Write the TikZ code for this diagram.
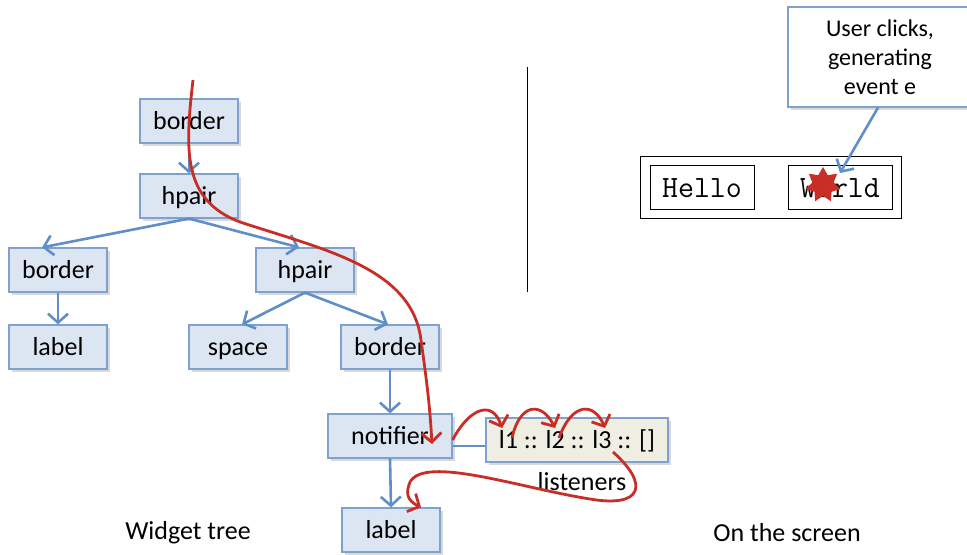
\documentclass[tikz,border=0pt]{standalone}
\usepackage{fontspec}
\setmainfont{Carlito}
\usetikzlibrary{arrows.meta,shadows,shapes.geometric}
\definecolor{boxfill}{RGB}{220,230,242}
\definecolor{boxline}{RGB}{126,161,207}
\definecolor{treeblue}{RGB}{96,142,201}
\definecolor{flowred}{RGB}{200,45,38}
\definecolor{listfill}{RGB}{238,238,226}

\begin{document}
\begin{tikzpicture}[x=0.5pt,y=-0.5pt]
  \tikzstyle{box}=[draw=boxline,fill=boxfill,line width=0.6pt,minimum width=49pt,minimum height=22pt,inner sep=0pt,text height=10pt,text depth=1.5pt,font=\fontsize{13}{15}\selectfont,drop shadow={opacity=0.3,shadow xshift=1.5pt,shadow yshift=-1.5pt}]
  \tikzstyle{tree}=[draw=treeblue,line width=1.3pt,-{Straight Barb[length=4.5pt,width=10pt]}]
  \tikzstyle{flow}=[draw=flowred,line width=1.4pt,-{Straight Barb[length=4.5pt,width=10pt]}]
  \tikzstyle{screenbox}=[draw,line width=0.5pt,minimum width=52pt,minimum height=22pt,inner sep=0pt,font=\ttfamily\fontsize{15.5}{17}\selectfont]
  \tikzstyle{caption}=[font=\fontsize{13}{15}\selectfont]

  \useasboundingbox (0,0) rectangle (967,555);

  % Define the widget tree
  \node[box] (b1) at (189,121) {border};
  \node[box] (h1) at (189,196) {hpair};
  \node[box] (b2) at (58,270) {border};
  \node[box] (h2) at (305,270) {hpair};
  \node[box] (lab1) at (58,347) {label};
  \node[box] (sp) at (238,347) {space};
  \node[box] (b3) at (390,347) {border};
  \node[box,minimum width=62pt] (notif) at (390,436) {notifier};
  \node[box] (lab2) at (391,530) {label};
  \node[box,fill=listfill,minimum width=91pt] (lst) at (577,440) {l1 :: l2 :: l3 :: []};
  \node[caption] (lsttext) at (582,482) {listeners};

  % Draw the tree edges
  \foreach \a/\b in {b1/h1, b2/lab1, b3/notif, notif/lab2} {
    \draw[tree] (\a.south) -- (\b.north);
  }
  \draw[tree] (h1.south) -- ([xshift=-8pt]b2.north);
  \draw[tree] (h1.south) -- ([xshift=-3pt]h2.north);
  \draw[tree] (h2.south) -- ([xshift=2pt]sp.north);
  \draw[tree] (h2.south) -- ([xshift=-1pt]b3.north);
  \draw[draw=treeblue,line width=1.3pt] ([yshift=-5pt]notif.east) -- ([yshift=-3pt]lst.west);

  % The event goes down the tree
  \coordinate (top) at (193,80);
  \coordinate (hit) at (432,444);
  \draw[flow] (top) .. controls (185,150) and (182,200) .. (240,222)
    .. controls (325,250) and (412,268) .. (421,340)
    .. controls (428,390) and (430,410) .. (hit);

  % Then along the listeners
  \coordinate (l1) at (502,428);
  \coordinate (l2) at (555,428);
  \coordinate (l3) at (605,428);
  \coordinate (l3b) at (613,452);
  \draw[flow] ([yshift=-2pt]notif.east) .. controls (468,410) and (492,398) .. (l1);
  \draw[flow] ([xshift=5pt,yshift=-5pt]l1) .. controls (520,402) and (542,402) .. (l2);
  \draw[flow] ([xshift=2pt,yshift=-5pt]l2) .. controls (572,402) and (594,402) .. (l3);
  \draw[flow] (l3b) .. controls (650,485) and (642,508) .. (590,499)
    .. controls (520,488) and (425,455) .. (410,482)
    .. controls (406,492) and (406,500) .. ([xshift=15pt]lab2.north);

  % Captions and separator
  \node[caption] (wt) at (188,533) {Widget tree};
  \node[caption] (os) at (787,533) {On the screen};
  \draw[line width=0.5pt] (527,67) -- (527,292);

  % The screen
  \node[draw,line width=0.5pt,minimum width=130.5pt,minimum height=31pt,inner sep=0pt] (win) at (771,188) {};
  \node[screenbox] (hello) at (702,188) {Hello};
  \node[screenbox] (world) at (840,188) {World};
  \node[star,star points=7,star point ratio=1.65,fill=flowred,minimum size=18pt,inner sep=0pt] (click) at (823,185) {};
  \node[box,align=center,minimum width=92pt,minimum height=50pt,fill=white,text height=,text depth=,font=\fontsize{12}{14.5}\selectfont] (user) at (880,57) {User clicks,\\generating\\event e};
  \draw[tree] ([xshift=-1pt]user.south) -- (840,173);
\end{tikzpicture}
\end{document}
